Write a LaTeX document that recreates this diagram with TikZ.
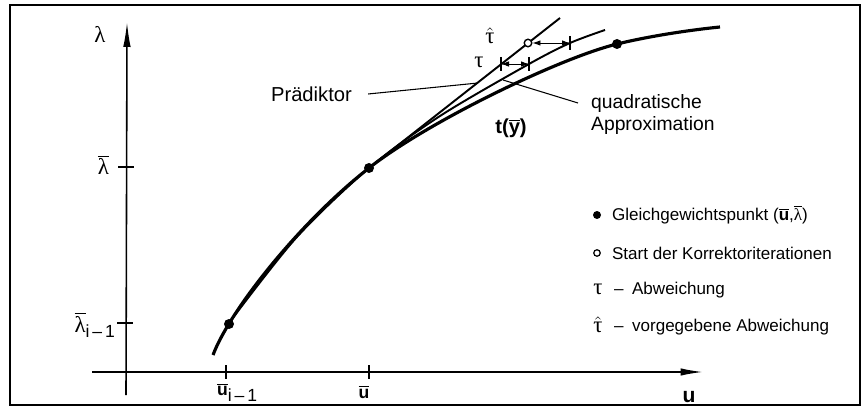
\documentclass[tikz,border=0pt]{standalone}
\usepackage{fontspec}
\setmainfont{Liberation Sans}
\newfontfamily\grk{Liberation Serif}
\usetikzlibrary{arrows.meta}
\newcommand{\myubar}{$\overline{\mbox{\textbf{u}}}$}
\newcommand{\myybar}{$\overline{\mbox{\textbf{y}}}$}
\newcommand{\mylbar}{$\overline{\mbox{\grk λ}}$}
\begin{document}
\begin{tikzpicture}[x=0.02cm,y=-0.02cm,
  font=\fontsize{10}{12}\selectfont,
  frameline/.style={line width=0.6pt},
  axisline/.style={line width=0.9pt},
  tickline/.style={line width=0.9pt},
  eqcurve/.style={line width=1.8pt},
  approxline/.style={line width=1.1pt},
  leader/.style={line width=0.6pt},
  fdot/.style={circle, fill=black, inner sep=0pt, minimum size=0.2cm},
  odot/.style={circle, draw=black, fill=white, line width=0.8pt, inner sep=0pt, minimum size=0.15cm},
  ldot/.style={circle, fill=black, inner sep=0pt, minimum size=0.16cm},
  lodot/.style={circle, draw=black, line width=0.7pt, inner sep=0pt, minimum size=0.13cm},
  dimarrow/.style={line width=0.5pt, {Latex[length=1.6mm,width=1.1mm]}-{Latex[length=1.6mm,width=1.1mm]}},
  dimbar/.style={line width=0.6pt},
  greek/.style={font=\fontsize{13}{15}\selectfont\grk, inner sep=1pt},
  txt/.style={inner sep=1pt, font=\fontsize{9.7}{12}\selectfont},
  bigtxt/.style={inner sep=1pt, font=\fontsize{11.5}{14}\selectfont}
]
\useasboundingbox (0,0) rectangle (868,415);
\draw[frameline] (10,5) rectangle (860,405);

% axes
\coordinate (yaxbot) at (126,395);
\coordinate (yaxtop) at (127,22);
\coordinate (xaxl) at (92,372);
\coordinate (xaxr) at (703,372);
\draw[axisline,-{Latex[length=5mm,width=1.5mm]}] (yaxbot) -- (yaxtop);
\draw[axisline,-{Latex[length=4.5mm,width=1.5mm]}] (xaxl) -- (xaxr);

% ticks
\draw[tickline] (118,167) -- (134,167);
\draw[tickline] (117,323) -- (133,323);
\draw[tickline] (226,365) -- (226,379);
\draw[tickline] (369,365) -- (369,379);

% axis labels
\node[greek] (lam) at (100,34) {λ};
\node[greek, anchor=east] (lbar) at (111,165) {\mylbar};
\node[greek, anchor=east] (lbarim) at (117,325) {\mylbar\raisebox{-0.5ex}{\fontsize{10}{12}\selectfont\rmfamily i\,–\,1}};
\node[txt, anchor=west, font=\fontsize{10}{12}\selectfont] (ubarim) at (215,392) {\myubar\raisebox{-0.6ex}{i\,–\,1}};
\node[txt, font=\fontsize{10}{12}\selectfont] (ubar) at (364,392) {\myubar};
\node[bigtxt, font=\fontsize{12}{14}\selectfont] (ulab) at (689,397) {\textbf{u}};

% curves
\coordinate (c0) at (213,355);
\coordinate (cm) at (369,168);
\coordinate (ct) at (617,44);
\coordinate (ce) at (720,27);
\draw[eqcurve] (c0) .. controls (230,310) and (300,222) .. (cm)
  .. controls (429,121) and (560,58) .. (ct)
  .. controls (650,36) and (690,30) .. (ce);
\draw[approxline] plot[smooth, tension=0.5] coordinates {(229,323) (296,238) (369,168) (440,116) (529,64) (570,43) (605,30)};
\coordinate (tanend) at (560,18);
\draw[approxline] (cm) -- (tanend);

% points
\node[fdot] (p1) at (229,324) {};
\node[fdot] (p2) at (cm) {};
\node[fdot] (p3) at (ct) {};
\node[odot] (oc) at (528,43) {};

% tau dimensions
\coordinate (tauL) at (501,64);
\coordinate (tauR) at (529,64);
\draw[dimarrow] (tauL) -- (tauR);
\draw[dimbar] ([yshift=4pt]tauL) -- ([yshift=-4pt]tauL);
\draw[dimbar] ([yshift=4pt]tauR) -- ([yshift=-4pt]tauR);
\coordinate (thR) at (570,43);
\draw[dimarrow] (oc.east) -- (thR);
\draw[dimbar] ([yshift=4pt]thR) -- ([yshift=-4pt]thR);
\node[greek] (taulab) at (479,62) {τ};
\node[greek] (tauhlab) at (490,36) {$\hat{\mbox{\grk τ}}$};

% labels with leaders
\node[bigtxt, anchor=east] (pred) at (354,94) {Prädiktor};
\coordinate (predpt) at (478,83);
\draw[leader] ([xshift=8pt]pred.east) -- (predpt);
\node[bigtxt, anchor=north west, align=left, font=\fontsize{11}{13}\selectfont] (quad) at (589,92) {quadratische\\Approximation};
\coordinate (quadpt) at (503,80);
\coordinate (quadend) at (578,103);
\draw[leader] (quadpt) -- (quadend);
\node[bigtxt] (tylab) at (511,128) {\textbf{t(}\myybar\textbf{)}};

% legend
\node[ldot] (lg1) at (597,215) {};
\node[txt, anchor=west] (lt1) at (610,215) {Gleichgewichtspunkt (\myubar,\mylbar)};
\node[lodot] (lg2) at (597,253) {};
\node[txt, anchor=west] (lt2) at (610,253) {Start der Korrektoriterationen};
\node[greek] (lg3) at (598,289) {τ};
\node[txt, anchor=west] (lt3) at (612,290) {–\enspace Abweichung};
\node[greek] (lg4) at (598,325) {$\hat{\mbox{\grk τ}}$};
\node[txt, anchor=west] (lt4) at (612,327) {–\enspace vorgegebene Abweichung};
\end{tikzpicture}
\end{document}
